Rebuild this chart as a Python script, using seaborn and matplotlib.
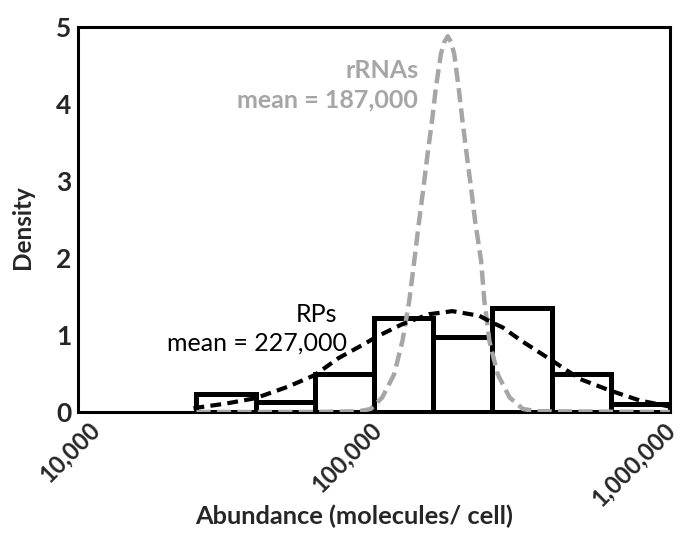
import numpy as np
import pandas as pd
import matplotlib
matplotlib.use("Agg")
import matplotlib.pyplot as plt
import matplotlib.transforms as mtrans
import seaborn as sns

# ---- data ----
bin_edges = [25000, 40000, 63000, 100000, 158000, 251000, 398000, 631000, 1000000]
bar_heights = [0.24, 0.13, 0.49, 1.22, 0.98, 1.35, 0.50, 0.11]

rp_curve_log10x = [4.39, 4.50, 4.60, 4.71, 4.80, 4.88, 4.97, 5.01, 5.095, 5.186, 5.265,
                   5.356, 5.40, 5.434, 5.50, 5.593, 5.695, 5.797, 5.898, 6.0]
rp_curve_y = [0.05, 0.11, 0.18, 0.33, 0.48, 0.70, 0.89, 0.98, 1.14, 1.27, 1.31,
              1.25, 1.16, 1.10, 0.92, 0.69, 0.43, 0.28, 0.15, 0.07]

rrna_curve_log10x = [4.40, 4.80, 4.95, 4.989, 5.028, 5.068, 5.096, 5.119, 5.136, 5.153,
                     5.167, 5.181, 5.196, 5.209, 5.226, 5.237, 5.249, 5.261, 5.271, 5.286,
                     5.299, 5.313, 5.328, 5.341, 5.362, 5.373, 5.390, 5.418, 5.458, 5.503,
                     5.55, 6.0]
rrna_curve_y = [0.0, 0.0, 0.01, 0.04, 0.19, 0.49, 0.92, 1.44, 1.96, 2.50,
                2.91, 3.35, 3.78, 4.21, 4.65, 4.80, 4.88, 4.80, 4.65, 4.21,
                3.78, 3.35, 2.91, 2.50, 1.96, 1.44, 0.92, 0.49, 0.19, 0.04,
                0.01, 0.0]

x_ticks = [10000, 100000, 1000000]
x_tick_labels = ["10,000", "100,000", "1,000,000"]
y_ticks = [0, 1, 2, 3, 4, 5]

# ---- style ----
sns.set_theme(style="white")
plt.rcParams["font.family"] = ["Lato", "DejaVu Sans"]

fig = plt.figure(figsize=(6.85, 5.4), dpi=100)
ax = fig.add_axes([0.114, 0.237, 0.864, 0.713])

edges_log = [float(v) for v in np.log10(bin_edges)]
centers_log = [(a + b) / 2 for a, b in zip(edges_log[:-1], edges_log[1:])]
hist_df = pd.DataFrame({"x": centers_log, "h": bar_heights})

sns.histplot(data=hist_df, x="x", weights="h", bins=edges_log, stat="count",
             fill=False, color="black", linewidth=3.6, ax=ax, zorder=2)

sns.lineplot(x=rrna_curve_log10x, y=rrna_curve_y, color="#a6a6a6", linewidth=3.2,
             sort=False, estimator=None, ax=ax, zorder=3)
ax.lines[-1].set_linestyle((0, (3.2, 1.4)))
sns.lineplot(x=rp_curve_log10x, y=rp_curve_y, color="black", linewidth=3.0,
             sort=False, estimator=None, ax=ax, zorder=4)
ax.lines[-1].set_linestyle((0, (2.6, 1.5)))

ax.set_xlim(4, 6)
ax.set_ylim(0, 5)
tick_pos = np.log10(x_ticks)
ax.set_xticks(tick_pos)
ax.set_xticklabels([])
# rotated tick labels drawn at the tick positions, with small pixel offsets
shifts_px = [10, -4, -7]
for pos, label, dx in zip(tick_pos, x_tick_labels, shifts_px):
    tr = ax.get_xaxis_transform() + mtrans.ScaledTranslation(dx / 100, -6 / 100,
                                                            fig.dpi_scale_trans)
    ax.text(pos, 0, label, transform=tr, rotation=45, ha="right", va="top",
            rotation_mode="anchor", fontsize=17, fontweight="bold", clip_on=False)

ax.set_yticks(y_ticks)
ax.set_yticklabels([str(v) for v in y_ticks], fontsize=19, fontweight="bold")
ax.tick_params(axis="y", direction="in", length=4, width=1.5, pad=5)
ax.tick_params(axis="x", direction="in", length=0, pad=4)

for s in ax.spines.values():
    s.set_visible(True)
    s.set_color("black")
    s.set_linewidth(2.2)

ax.set_xlabel("Abundance (molecules/ cell)", fontsize=18.3, fontweight="bold")
ax.xaxis.set_label_coords(0.466, -0.24)
ax.set_ylabel("Density", fontsize=17.5, fontweight="bold")
ax.yaxis.set_label_coords(-0.075, 0.48)

ax.text(5.152, 4.44, "rRNAs", color="#a6a6a6", fontsize=18, fontweight="bold",
        ha="right", va="center")
ax.text(5.149, 4.05, "mean = 187,000", color="#a6a6a6", fontsize=18, fontweight="bold",
        ha="right", va="center")
ax.text(4.807, 1.26, "RPs", color="black", fontsize=18, ha="center", va="center")
ax.text(4.30, 0.90, "mean = 227,000", color="black", fontsize=18, ha="left", va="center")

fig.savefig("out.png", dpi=100)
